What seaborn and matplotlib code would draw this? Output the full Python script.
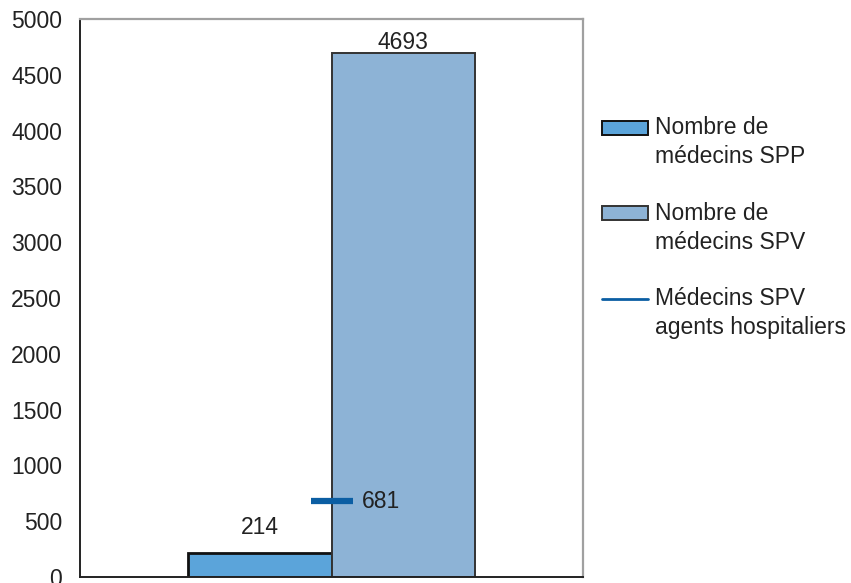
import matplotlib
matplotlib.use("Agg")
import matplotlib.pyplot as plt
import seaborn as sns
import pandas as pd
from matplotlib.patches import Patch
from matplotlib.lines import Line2D
from matplotlib.legend_handler import HandlerPatch, HandlerLine2D

# Data
categories = [""]
series = ["Nombre de\nmédecins SPP", "Nombre de\nmédecins SPV"]
bar_values = [214, 4693]
hospital_label = "Médecins SPV\nagents hospitaliers"
hospital_values = [681]
y_ticks = list(range(0, 5001, 500))

bar_colors = ["#5BA4DA", "#8DB3D6"]
bar_edges = ["#111111", "#333333"]
line_color = "#0B5EA3"
text_color = "#222222"

sns.set_style("white")
plt.rcParams["font.family"] = ["Liberation Sans", "DejaVu Sans"]
FS = 16.5

df = pd.DataFrame({
    "cat": categories * len(series),
    "serie": series,
    "val": bar_values,
})

fig = plt.figure(figsize=(8.51, 5.83), dpi=100)
ax = fig.add_axes([80 / 851, 6 / 583, 503 / 851, 558 / 583])

sns.barplot(data=df, x="cat", y="val", hue="serie", palette=bar_colors,
            width=0.57, dodge=True, ax=ax, legend=False, saturation=1)

bars = [p for p in ax.patches]
for p, ec, lw in zip(bars, bar_edges, [2.0, 1.4]):
    p.set_edgecolor(ec)
    p.set_linewidth(lw)

# value labels above the bars
label_offsets = [18.5, 7.5]
for p, v, off in zip(bars, bar_values, label_offsets):
    ax.annotate(f"{v}", (p.get_x() + p.get_width() / 2, v),
                xytext=(0, off), textcoords="offset points",
                ha="center", va="center", fontsize=FS, color=text_color)

# hospital doctors marker
hdf = pd.DataFrame({"cat": categories, "val": hospital_values})
sns.scatterplot(data=hdf, x="cat", y="val", marker="_", s=900,
                linewidth=4.5, color=line_color, ax=ax, zorder=5, legend=False)
for v in hospital_values:
    ax.annotate(f"{v}", (0, v), xytext=(22, 0), textcoords="offset points",
                ha="left", va="center", fontsize=FS, color=text_color)

ax.set_xlim(-0.5, 0.5)
ax.set_ylim(0, 5000)
ax.set_yticks(y_ticks)
ax.set_yticklabels([str(t) for t in y_ticks])
ax.set_xticks([-0.5, 0.5])
ax.set_xticklabels(["", ""])
ax.set_xlabel("")
ax.set_ylabel("")

ax.tick_params(axis="y", direction="inout", length=10, width=1.2,
               color="#222222", pad=8, labelsize=FS, labelcolor=text_color)
ax.tick_params(axis="x", direction="out", length=8, width=1.2, color="#222222")

for side in ["left", "bottom"]:
    ax.spines[side].set_color("#222222")
    ax.spines[side].set_linewidth(1.4)
for side in ["top", "right"]:
    ax.spines[side].set_visible(True)
    ax.spines[side].set_color("#A0A0A0")
    ax.spines[side].set_linewidth(1.6)


class LiftedPatch(HandlerPatch):
    def __init__(self, lift, **kw):
        super().__init__(**kw)
        self.lift = lift

    def create_artists(self, legend, orig_handle, xdescent, ydescent,
                       width, height, fontsize, trans):
        return super().create_artists(legend, orig_handle, xdescent,
                                      ydescent - self.lift, width, height,
                                      fontsize, trans)


class LiftedLine(HandlerLine2D):
    def __init__(self, lift, **kw):
        super().__init__(**kw)
        self.lift = lift

    def create_artists(self, legend, orig_handle, xdescent, ydescent,
                       width, height, fontsize, trans):
        return super().create_artists(legend, orig_handle, xdescent,
                                      ydescent - 2 * self.lift, width, height,
                                      fontsize, trans)


LIFT = 11.0
handles = [
    Patch(facecolor=bar_colors[0], edgecolor=bar_edges[0], linewidth=1.4),
    Patch(facecolor=bar_colors[1], edgecolor=bar_edges[1], linewidth=1.4),
    Line2D([0], [0], color=line_color, linewidth=2),
]
labels = series + [hospital_label]
leg = fig.legend(handles, labels, loc="upper left",
                 bbox_to_anchor=(602 / 851, 1 - 116 / 583),
                 frameon=False, fontsize=FS, borderpad=0, borderaxespad=0,
                 handlelength=2.0, handleheight=0.56, handletextpad=0.3,
                 labelspacing=1.45, labelcolor=text_color,
                 handler_map={Patch: LiftedPatch(LIFT), Line2D: LiftedLine(LIFT)})
for t in leg.get_texts():
    t.set_linespacing(1.35)

fig.savefig("out.png", dpi=100)
